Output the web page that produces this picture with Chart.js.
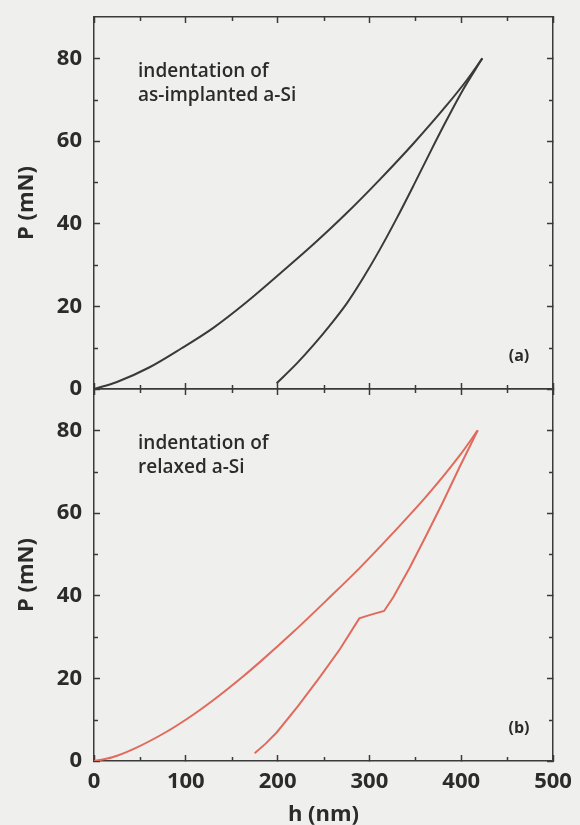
<!DOCTYPE html>
<html>
<head>
<meta charset="utf-8">
<script src="https://cdn.jsdelivr.net/npm/chart.js@4.4.1/dist/chart.umd.min.js"></script>
<style>
  html, body { margin: 0; padding: 0; background: #efefed; overflow: hidden; }
  #wrap { position: relative; width: 580px; height: 825px; }
  canvas { position: absolute; left: 0; }
  #chartA { top: 0; }
  #chartB { top: 380px; }
</style>
</head>
<body>
<div id="wrap">
  <canvas id="chartA" width="580" height="395"></canvas>
  <canvas id="chartB" width="580" height="450"></canvas>
</div>
<script>
// (a) as-implanted a-Si : loading and unloading, h in nm, P in mN
var loadA_h = [0, 25, 60, 95, 130, 165, 203, 239, 275, 311, 348, 384, 406, 423];
var loadA_P = [0, 1.7, 5.2, 9.8, 14.8, 20.8, 28.0, 35.0, 42.5, 50.6, 59.4, 68.6, 74.7, 80];
var unloadA_h = [199, 221, 239, 257, 275, 293, 311, 330, 348, 366, 384, 402, 423];
var unloadA_P = [1.4, 6.2, 10.6, 15.4, 20.6, 26.8, 33.6, 41.4, 49.2, 57.2, 65.0, 72.4, 80];

// (b) relaxed a-Si
var loadB_h = [0, 20, 44, 80, 108, 128, 162, 180, 217, 253, 289, 325, 362, 398, 418];
var loadB_P = [0, 0.9, 3.0, 7.2, 11.2, 14.4, 20.4, 23.8, 31.2, 38.8, 46.6, 55.0, 64.0, 73.8, 80];
var unloadB_h = [175, 187, 199, 222, 246, 268, 289, 300, 316, 326, 344, 362, 380, 398, 418];
var unloadB_P = [1.9, 4.2, 6.9, 13.2, 20.3, 27.1, 34.5, 35.3, 36.3, 39.6, 46.8, 54.6, 62.6, 71.0, 80];

var xMinor = [50, 150, 250, 350, 450];
var yMinor = [10, 30, 50, 70];

var axisColor = '#3a3a3a';
var textColor = '#2b2b2b';

Chart.defaults.font.family = "'Open Sans', sans-serif";
Chart.defaults.font.weight = '600';

function toPoints(hs, ps) {
    return hs.map(function(h, i) { return { x: h, y: ps[i] }; });
}

// small ticks between the labelled ones, on all four sides
var minorTicks = {
    id: 'minorTicks',
    afterDraw: function(chart) {
        var ctx = chart.ctx, a = chart.chartArea;
        var xs = chart.scales.x, ys = chart.scales.y;
        ctx.save();
        ctx.strokeStyle = axisColor;
        ctx.lineWidth = 1.5;
        ctx.beginPath();
        xMinor.forEach(function(v) {
            var px = Math.round(xs.getPixelForValue(v)) + 0.5;
            ctx.moveTo(px, a.bottom); ctx.lineTo(px, a.bottom - 4);
            ctx.moveTo(px, a.top); ctx.lineTo(px, a.top + 4);
        });
        yMinor.forEach(function(v) {
            var py = Math.round(ys.getPixelForValue(v)) + 0.5;
            ctx.moveTo(a.left, py); ctx.lineTo(a.left + 4, py);
            ctx.moveTo(a.right, py); ctx.lineTo(a.right - 4, py);
        });
        ctx.stroke();
        ctx.restore();
    }
};

// annotation text inside each panel
var panelText = {
    id: 'panelText',
    afterDraw: function(chart, args, opts) {
        var ctx = chart.ctx, xs = chart.scales.x, ys = chart.scales.y;
        ctx.save();
        ctx.fillStyle = textColor;
        ctx.textBaseline = 'middle';
        ctx.font = "600 19px 'Open Sans'";
        var x0 = xs.getPixelForValue(opts.h), y0 = ys.getPixelForValue(opts.P);
        opts.lines.forEach(function(t, i) {
            ctx.fillText(t, x0, y0 + i * 24);
        });
        ctx.font = "700 16px 'Open Sans'";
        ctx.textAlign = 'center';
        ctx.fillText(opts.tag, xs.getPixelForValue(463), ys.getPixelForValue(7.8));
        ctx.restore();
    }
};

// fixed axis boxes so both panels line up
function fixBox(size) {
    return function(s) {
        if (s.isHorizontal()) { s.height = size; } else { s.width = size; }
        s.paddingTop = 0; s.paddingBottom = 0; s.paddingLeft = 0; s.paddingRight = 0;
    };
}

function makePanel(id, loadH, loadP, unH, unP, color, isBottom, lines, tag) {
    var ctx = document.getElementById(id).getContext('2d');
    var gridOpts = { drawOnChartArea: false, tickLength: -6, tickWidth: 1.5, tickColor: axisColor, color: axisColor };
    var borderOpts = { color: axisColor, width: 1.5 };
    var tickFont = { size: 22, weight: '700' };
    var lineStyle = { showLine: true, pointRadius: 0, borderWidth: 2, borderColor: color };

    return new Chart(ctx, {
        type: 'scatter',
        data: {
            datasets: [
                Object.assign({ label: 'loading', data: toPoints(loadH, loadP), cubicInterpolationMode: 'monotone' }, lineStyle),
                // relaxed a-Si unloading keeps its sharp pop-out corners
                Object.assign({ label: 'unloading', data: toPoints(unH, unP) }, lineStyle,
                    isBottom ? { tension: 0 } : { cubicInterpolationMode: 'monotone' })
            ]
        },
        options: {
            responsive: false,
            animation: false,
            layout: { padding: { left: 0, right: 27, top: isBottom ? 9 : 17, bottom: isBottom ? 0 : 6 } },
            plugins: {
                legend: { display: false },
                tooltip: { enabled: false },
                panelText: { h: 48, P: 76.8, lines: lines, tag: tag }
            },
            scales: {
                x: {
                    type: 'linear', position: 'bottom', min: 0, max: 500,
                    ticks: { display: isBottom, stepSize: 100, includeBounds: false, padding: 14, color: textColor, font: tickFont },
                    grid: gridOpts,
                    border: borderOpts,
                    title: { display: isBottom, text: 'h (nm)', color: textColor, font: tickFont, padding: { top: 0, bottom: 2 } },
                    afterFit: fixBox(isBottom ? 69 : 0)
                },
                x2: {
                    type: 'linear', position: 'top', min: 0, max: 500,
                    ticks: { display: false, stepSize: 100, includeBounds: false },
                    grid: gridOpts,
                    border: borderOpts,
                    afterFit: fixBox(0)
                },
                y: {
                    type: 'linear', position: 'left', min: 0, max: 90,
                    ticks: { stepSize: 20, includeBounds: false, padding: 18, color: textColor, font: tickFont },
                    grid: gridOpts,
                    border: borderOpts,
                    title: { display: true, text: 'P (mN)', color: textColor, font: tickFont, padding: { top: 14, bottom: 0 } },
                    afterFit: fixBox(94)
                },
                y2: {
                    type: 'linear', position: 'right', min: 0, max: 90,
                    ticks: { display: false, stepSize: 20, includeBounds: false },
                    grid: gridOpts,
                    border: borderOpts,
                    afterFit: fixBox(0)
                }
            }
        },
        plugins: [minorTicks, panelText]
    });
}

makePanel('chartA', loadA_h, loadA_P, unloadA_h, unloadA_P, '#3a3a3a', false,
    ['indentation of', 'as-implanted a-Si'], '(a)');
makePanel('chartB', loadB_h, loadB_P, unloadB_h, unloadB_P, '#e06b5c', true,
    ['indentation of', 'relaxed a-Si'], '(b)');
</script>
</body>
</html>
